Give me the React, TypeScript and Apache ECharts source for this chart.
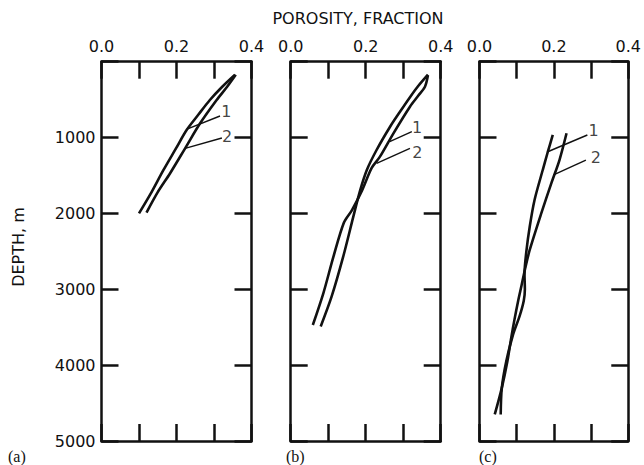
import React, { useEffect, useRef } from "react";
import * as echarts from "echarts";

// Porosity (fraction) vs depth (m)
const labeledPorosity = [0, 0.2, 0.4];
const panelLetters = ["(a)", "(b)", "(c)"];

// Panel (a)
const aCurve1 = [[0.356, 172], [0.322, 330], [0.289, 505], [0.258, 700], [0.227, 900], [0.199, 1140], [0.165, 1430], [0.13, 1750], [0.1, 2000]];
const aCurve2 = [[0.358, 172], [0.335, 330], [0.307, 505], [0.263, 812], [0.223, 1142], [0.183, 1470], [0.15, 1720], [0.12, 1990]];
const aLeader1 = [[0.316, 716], [0.228, 890]];
const aLeader2 = [[0.321, 1006], [0.223, 1142]];
const aLabels = [[0.333, 650, "1"], [0.335, 985, "2"]];

// Panel (b)
const bCurve1 = [[0.366, 170], [0.34, 320], [0.319, 461], [0.29, 670], [0.265, 857], [0.229, 1164], [0.203, 1428], [0.185, 1700], [0.167, 2043], [0.14, 2570], [0.109, 3098], [0.08, 3490]];
const bCurve2 = [[0.366, 180], [0.358, 330], [0.34, 450], [0.318, 593], [0.274, 944], [0.238, 1252], [0.216, 1400], [0.19, 1700], [0.163, 1960], [0.142, 2120], [0.114, 2570], [0.087, 3053], [0.059, 3471]];
const bLeader1 = [[0.323, 923], [0.264, 1055]];
const bLeader2 = [[0.318, 1142], [0.229, 1339]];
const bLabels = [[0.337, 870, "1"], [0.338, 1195, "2"]];

// Panel (c)
const cCurve1 = [[0.197, 966], [0.183, 1200], [0.17, 1428], [0.148, 1823], [0.135, 2175], [0.126, 2500], [0.121, 2800], [0.122, 3000], [0.119, 3150], [0.108, 3350], [0.09, 3600], [0.072, 3950], [0.06, 4300], [0.057, 4650]];
const cCurve2 = [[0.234, 944], [0.215, 1296], [0.193, 1603], [0.166, 2000], [0.135, 2482], [0.124, 2700], [0.113, 2950], [0.104, 3150], [0.094, 3400], [0.085, 3650], [0.075, 3950], [0.06, 4300], [0.041, 4650]];
const cLeader1 = [[0.29, 966], [0.185, 1184]];
const cLeader2 = [[0.286, 1296], [0.199, 1493]];
const cLabels = [[0.307, 905, "1"], [0.313, 1265, "2"]];

const panels = [
  { c1: aCurve1, c2: aCurve2, l1: aLeader1, l2: aLeader2, labels: aLabels },
  { c1: bCurve1, c2: bCurve2, l1: bLeader1, l2: bLeader2, labels: bLabels },
  { c1: cCurve1, c2: cCurve2, l1: cLeader1, l2: cLeader2, labels: cLabels },
];

const gridLefts = [101.5, 290.7, 479.5];
const INK = "#111";
const FONT = "DejaVu Sans";

export default function App() {
  const ref = useRef<HTMLDivElement>(null);
  useEffect(() => {
    if (!ref.current) return;
    const chart = echarts.init(ref.current, undefined, { renderer: "svg" });
    const grid: any[] = [];
    const xAxis: any[] = [];
    const yAxis: any[] = [];
    const series: any[] = [];
    panels.forEach((p, i) => {
      grid.push({ left: gridLefts[i], top: 61.7, width: 150, height: 379.3 });
      const axLine = { show: true, onZero: false, lineStyle: { color: INK, width: 2.5 } };
      const tick = { show: true, inside: true, length: 17, lineStyle: { color: INK, width: 2.5 } };
      xAxis.push({
        type: "value", gridIndex: i, position: "top", min: 0, max: 0.4, interval: 0.1,
        axisLine: axLine, axisTick: tick, splitLine: { show: false },
        axisLabel: {
          show: true, margin: 7, color: INK, fontFamily: FONT, fontSize: 16,
          showMinLabel: true, showMaxLabel: true,
          formatter: (v: number) => {
            const r = Math.round(v * 10) / 10;
            return labeledPorosity.includes(r) ? r.toFixed(1) : "";
          },
        },
      });
      xAxis.push({
        type: "value", gridIndex: i, position: "bottom", min: 0, max: 0.4, interval: 0.1,
        axisLine: axLine, axisTick: tick, splitLine: { show: false }, axisLabel: { show: false },
      });
      yAxis.push({
        type: "value", gridIndex: i, position: "left", inverse: true, min: 0, max: 5000, interval: 1000,
        axisLine: axLine, axisTick: tick, splitLine: { show: false },
        axisLabel: {
          show: i === 0, margin: 6, color: INK, fontFamily: FONT, fontSize: 16,
          showMaxLabel: true,
          formatter: (v: number) => (v === 0 ? "" : String(v)),
        },
      });
      yAxis.push({
        type: "value", gridIndex: i, position: "right", inverse: true, min: 0, max: 5000, interval: 1000,
        axisLine: axLine, axisTick: tick, splitLine: { show: false }, axisLabel: { show: false },
      });
      const xi = i * 2;
      const yi = i * 2;
      const curve = (data: number[][]) => ({
        type: "line", xAxisIndex: xi, yAxisIndex: yi, data, smooth: 0.3, symbol: "none",
        lineStyle: { color: INK, width: 2.6 }, silent: true,
      });
      const leader = (data: number[][]) => ({
        type: "line", xAxisIndex: xi, yAxisIndex: yi, data, symbol: "none",
        lineStyle: { color: INK, width: 1.4 }, silent: true,
      });
      series.push(curve(p.c1), curve(p.c2), leader(p.l1), leader(p.l2));
      series.push({
        type: "scatter", xAxisIndex: xi, yAxisIndex: yi, data: p.labels, symbolSize: 0,
        label: {
          show: true, position: "inside", color: INK, fontFamily: FONT, fontSize: 16,
          formatter: (q: any) => q.value[2],
        },
        silent: true,
      });
    });
    const graphic: any[] = [
      {
        type: "text", x: 358, y: 18,
        style: { text: "POROSITY, FRACTION", fill: INK, font: `16px ${FONT}`, textAlign: "center", textVerticalAlign: "middle" },
      },
      {
        type: "text", x: 18, y: 247, rotation: Math.PI / 2,
        style: { text: "DEPTH, m", fill: INK, font: `16px ${FONT}`, textAlign: "center", textVerticalAlign: "middle" },
      },
    ];
    const letterX = [8, 286, 479];
    panelLetters.forEach((t, i) => {
      graphic.push({
        type: "text", x: letterX[i], y: 456,
        style: { text: t, fill: INK, font: `16px "Liberation Serif"`, textAlign: "left", textVerticalAlign: "middle" },
      });
    });
    chart.setOption({
      animation: false,
      backgroundColor: "#fff",
      grid, xAxis, yAxis, series, graphic,
    });
    return () => chart.dispose();
  }, []);
  return <div ref={ref} style={{ position: "fixed", left: 0, top: 0, width: 644, height: 465 }} />;
}
